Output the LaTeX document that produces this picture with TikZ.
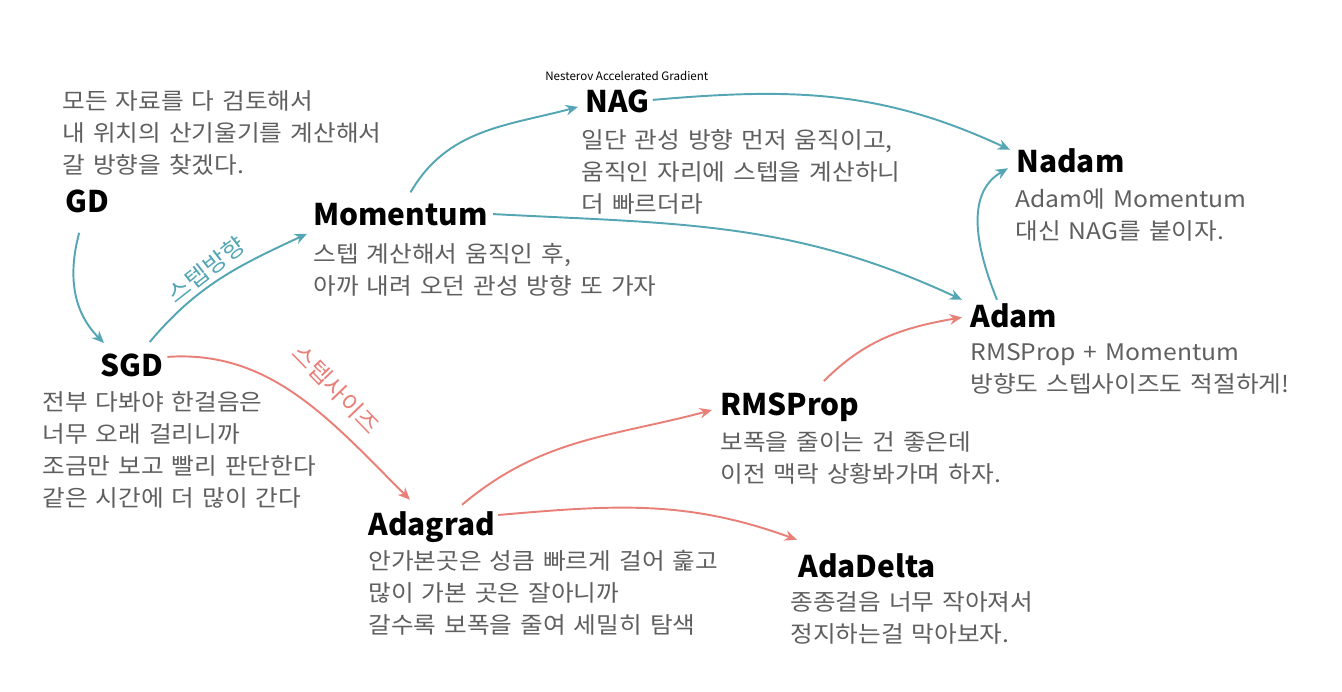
\documentclass[tikz,border=0pt]{standalone}
\usepackage{fontspec}
\setmainfont{Noto Sans CJK KR}
\newfontfamily\descfont{Noto Sans CJK KR}[WordSpace=1.45, FakeStretch=1.08]
\usepackage{tikz}
\usetikzlibrary{arrows.meta, positioning}
\definecolor{myteal}{RGB}{84, 166, 180}
\definecolor{myred}{RGB}{233, 128, 120}
\definecolor{mygray}{RGB}{95, 95, 95}
\tikzset{
  algo/.style={anchor=base west, inner sep=0pt, text=black,
    font=\fontsize{17}{20}\selectfont\bfseries},
  desc/.style={anchor=north west, inner sep=0pt, align=left, text=mygray,
    font=\descfont\fontsize{13}{18.2}\selectfont},
  tealarr/.style={-{Stealth[length=7pt,width=6pt]}, myteal, line width=1.1pt},
  redarr/.style={-{Stealth[length=7pt,width=6pt]}, myred, line width=1.1pt},
  steplabel/.style={font=\descfont\fontsize{13}{14}\selectfont, inner sep=1pt}
}

\begin{document}
\begin{tikzpicture}[x=0.02cm, y=0.02cm]
        \useasboundingbox (0,0) rectangle (1342,-692);
        % algorithms
        \node[algo] (gd) at (65,-213) {GD};
        \node[algo] (sgd) at (100,-377) {SGD};
        \node[algo] (mom) at (313,-226) {Momentum};
        \node[algo] (nag) at (585,-113) {NAG};
        \node[algo] (nadam) at (1016,-173) {Nadam};
        \node[algo] (adam) at (970,-328) {Adam};
        \node[algo] (rms) at (720,-416) {RMSProp};
        \node[algo] (adagrad) at (368,-535) {Adagrad};
        \node[algo] (adadelta) at (798,-577) {AdaDelta};
        \node[anchor=base west, inner sep=0pt, font=\fontsize{6.6}{8}\selectfont] (nagfull)
          at (545,-81) {Nesterov Accelerated Gradient};
        % descriptions
        \node[desc] (gdtext) at (62,-90) {모든 자료를 다 검토해서\\내 위치의 산기울기를 계산해서\\갈 방향을 찾겠다.};
        \node[desc] (sgdtext) at (42,-391) {전부 다봐야 한걸음은\\너무 오래 걸리니까\\조금만 보고 빨리 판단한다\\같은 시간에 더 많이 간다};
        \node[desc] (momtext) at (313,-243) {스텝 계산해서 움직인 후,\\아까 내려 오던 관성 방향 또 가자};
        \node[desc] (nagtext) at (581,-129) {일단 관성 방향 먼저 움직이고,\\움직인 자리에 스텝을 계산하니\\더 빠르더라};
        \node[desc] (nadamtext) at (1015,-188) {Adam에 Momentum\\대신 NAG를 붙이자.};
        \node[desc] (adamtext) at (970,-343) {RMSProp + Momentum\\방향도 스텝사이즈도 적절하게!};
        \node[desc] (rmstext) at (720,-431) {보폭을 줄이는 건 좋은데\\이전 맥락 상황봐가며 하자.};
        \node[desc] (adagradtext) at (368,-550) {안가본곳은 성큼 빠르게 걸어 훑고\\많이 가본 곳은 잘아니까\\갈수록 보폭을 줄여 세밀히 탐색};
        \node[desc] (adadeltatext) at (790,-591) {종종걸음 너무 작아져서\\정지하는걸 막아보자.};
        % arrow labels
        \node[steplabel, myteal, rotate=38] (dirlabel) at (206,-270) {스텝방향};
        \node[steplabel, myred, rotate=-46] (sizelabel) at (336,-389) {스텝사이즈};
        % connectors
        \draw[tealarr] ([shift={(-8,-19)}]gd.south) to[out=-105,in=135] ([shift={(4,11)}]sgd.north west);
        \draw[tealarr] ([shift={(18,12)}]sgd.north) to[out=50,in=205] ([shift={(-6,-7)}]mom.south west);
        \draw[tealarr] ([shift={(10,11)}]mom.north) to[out=60,in=195] ([shift={(-7,-5)}]nag.west);
        \draw[tealarr] ([shift={(3,2)}]nag.east) to[out=5,in=155] ([shift={(-6,-1)}]nadam.north west);
        \draw[tealarr] ([shift={(5,1)}]mom.east) to[out=-3,in=155] ([shift={(-8,4)}]adam.north west);
        \draw[tealarr] ([shift={(27,4)}]adam.north west) to[out=112,in=210] ([shift={(-8,-7)}]nadam.west);
        \draw[redarr] ([shift={(4,9)}]sgd.east) .. controls +(103,7) and +(-80,80) .. ([shift={(42,11)}]adagrad.north west);
        \draw[redarr] ([shift={(94,6)}]adagrad.north west) to[out=40,in=195] ([shift={(-8,6)}]rms.base west);
        \draw[redarr] ([shift={(3,20)}]adagrad.base east) to[out=5,in=160] ([shift={(-1,13)}]adadelta.north west);
        \draw[redarr] ([shift={(34,12)}]rms.north) to[out=45,in=190] ([shift={(-8,-1)}]adam.west);
      \end{tikzpicture}
\end{document}
